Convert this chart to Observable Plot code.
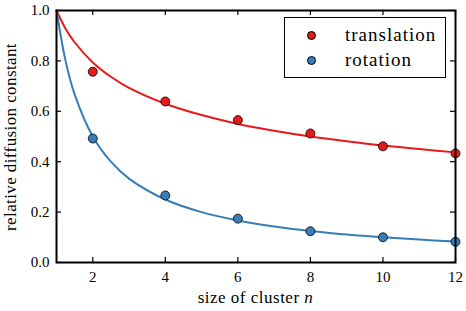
<!DOCTYPE html>
<html><head><meta charset="utf-8">
<script src="https://cdn.jsdelivr.net/npm/d3@7"></script>
<script src="https://cdn.jsdelivr.net/npm/@observablehq/plot@0.6"></script>
<style>
body{margin:0;background:#fff;}
#wrap{position:relative;width:466px;height:311px;font-family:'Liberation Serif',serif;}
#legend{position:absolute;left:284px;top:17px;width:162px;height:61px;border:1.3px solid #000;background:#fff;box-sizing:border-box;font-size:19px;letter-spacing:1px;font-family:'Liberation Serif',serif;}
.li{position:absolute;left:0;height:20px;display:flex;align-items:center;}
.sw{width:9px;height:9px;border-radius:50%;border:1px solid #000;box-sizing:border-box;margin-left:22px;margin-right:29px;}
</style></head>
<body><div id="wrap"></div>
<script>
const nPoints = [2, 4, 6, 8, 10, 12];
const translation = [0.757, 0.639, 0.565, 0.512, 0.461, 0.433];
const rotation = [0.492, 0.266, 0.174, 0.124, 0.100, 0.082];
const curveN = [1, 1.25, 1.5, 2, 2.5, 3, 4, 5, 6, 7, 8, 9, 10, 11, 12];
const translationFit = [1.0, 0.928, 0.874, 0.794, 0.737, 0.693, 0.630, 0.585, 0.550, 0.523, 0.500, 0.481, 0.464, 0.450, 0.437];
const rotationFit = [1.0, 0.800, 0.667, 0.500, 0.400, 0.333, 0.250, 0.200, 0.167, 0.143, 0.125, 0.111, 0.100, 0.091, 0.083];
const xTicks = [2, 4, 6, 8, 10, 12];
const yTicks = [0.0, 0.2, 0.4, 0.6, 0.8, 1.0];
const seriesNames = ["translation", "rotation"];
const colors = ["#e41a1c", "#377eb8"];

const FONT = "'Liberation Serif', serif";
const W = 466, H = 311, mL = 56, mR = 11, mT = 10, mB = 49;
const pw = W - mL - mR, ph = H - mT - mB;
const pts = nPoints.flatMap((n, i) => [{n, v: translation[i], s: seriesNames[0]}, {n, v: rotation[i], s: seriesNames[1]}]);
const fitT = curveN.map((n, i) => ({n, v: translationFit[i]}));
const fitR = curveN.map((n, i) => ({n, v: rotationFit[i]}));

const chart = Plot.plot({
  width: W, height: H, marginLeft: mL, marginRight: mR, marginTop: mT, marginBottom: mB,
  style: {fontFamily: FONT, fontSize: "15px", color: "#000", background: "#fff"},
  x: {domain: [1, 12]},
  y: {domain: [0, 1]},
  color: {domain: seriesNames, range: colors},
  marks: [
    Plot.line(fitT, {x: "n", y: "v", stroke: colors[0], strokeWidth: 2, curve: "catmull-rom"}),
    Plot.line(fitR, {x: "n", y: "v", stroke: colors[1], strokeWidth: 2, curve: "catmull-rom"}),
    Plot.dot(pts, {x: "n", y: "v", fill: "s", r: 4.5, stroke: "#000", strokeWidth: 0.8}),
    Plot.tickX(xTicks, {x: d => d, insetTop: ph - 5, stroke: "#000", strokeWidth: 1.2}),
    Plot.tickX(xTicks, {x: d => d, insetBottom: ph - 5, stroke: "#000", strokeWidth: 1.2}),
    Plot.tickY(yTicks, {y: d => d, insetRight: pw - 5, stroke: "#000", strokeWidth: 1.2}),
    Plot.tickY(yTicks, {y: d => d, insetLeft: pw - 5, stroke: "#000", strokeWidth: 1.2}),
    Plot.axisX(xTicks, {tickSize: 0, tickPadding: 9, label: null, fontSize: 15, fontFamily: FONT}),
    Plot.axisY(yTicks, {tickSize: 0, tickPadding: 7, label: null, tickFormat: d3.format(".1f"), fontSize: 15, fontFamily: FONT}),
    Plot.frame({stroke: "#000", strokeWidth: 2})
  ]
});
const wrap = document.getElementById("wrap");
wrap.appendChild(chart);
const svg = d3.select(chart);
svg.append("text").attr("x", mL + pw / 2).attr("y", 303).attr("text-anchor", "middle").attr("font-family", FONT)
  .attr("font-size", 17).attr("letter-spacing", 0.5).html('size of cluster <tspan font-style="italic">n</tspan>');
svg.append("text").attr("transform", `translate(16,${mT + ph / 2 + 1}) rotate(-90)`).attr("text-anchor", "middle").attr("font-family", FONT)
  .attr("font-size", 17).attr("letter-spacing", 0.4).text("relative diffusion constant");

const lg = document.createElement("div");
lg.id = "legend";
seriesNames.forEach((s, i) => {
  const row = document.createElement("div");
  row.className = "li";
  row.style.top = (7 + i * 25) + "px";
  row.innerHTML = `<span class="sw" style="background:${colors[i]}"></span><span>${s}</span>`;
  lg.appendChild(row);
});
wrap.appendChild(lg);
</script></body></html>
